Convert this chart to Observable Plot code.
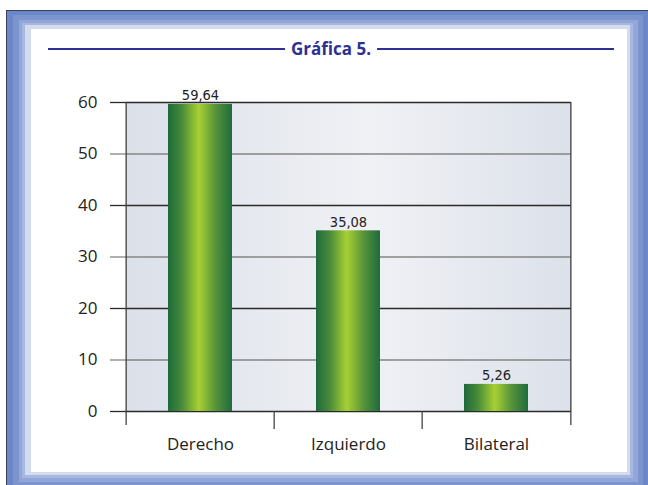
<!DOCTYPE html>
<html><head><meta charset="utf-8">
<script src="https://cdn.jsdelivr.net/npm/d3@7"></script>
<script src="https://cdn.jsdelivr.net/npm/@observablehq/plot@0.6"></script>
<style>
body{margin:0;background:#fff;}
#wrap{position:relative;width:648px;height:485px;overflow:hidden;background:#fff;}
.fb{position:absolute;}
#title{position:absolute;left:48px;top:38px;width:566px;height:22px;display:flex;align-items:center;}
#title .ln{flex:1;height:2px;background:#2e3192;}
#title .tx{font-family:"Open Sans",sans-serif;font-weight:700;font-size:17px;color:#2e3192;margin:0 6px;line-height:22px;}
#chart{position:absolute;left:0;top:0;}
</style></head><body>
<div id="wrap">
  <div class="fb" style="left:6px;top:10px;width:650px;height:480px;background:#3b3f58"></div>
  <div class="fb" style="left:7px;top:11px;width:650px;height:480px;background:#6a87c8"></div>
  <div class="fb" style="left:13px;top:15px;width:630px;height:470px;background:#7d95cf"></div>
  <div class="fb" style="left:19px;top:20px;width:619px;height:462px;background:#92a6d8"></div>
  <div class="fb" style="left:22px;top:23px;width:611px;height:455px;background:#a8b7e0"></div>
  <div class="fb" style="left:25px;top:25px;width:605px;height:450px;background:#d3dbef"></div>
  <div class="fb" style="left:31px;top:29px;width:596px;height:443px;background:#ffffff"></div>
  <div id="title"><div class="ln"></div><div class="tx">Gráfica 5.</div><div class="ln"></div></div>
  <div id="chart"></div>
</div>
<script>
const categories = ["Derecho", "Izquierdo", "Bilateral"];
const values = [59.64, 35.08, 5.26];
const yTicks = [0, 10, 20, 30, 40, 50, 60];

const data = categories.map((c, i) => ({cat: c, val: values[i]}));
const W = 648, H = 485, mL = 125, mR = 77, mT = 102, mB = 74;
const step = (W - mL - mR) / categories.length;
const gridColor = d => (d % 20 === 0 ? "#2a2a2a" : "#858585");
const fmt = d => d.toFixed(2).replace(".", ",");

const svg = Plot.plot({
  width: W, height: H,
  marginLeft: mL, marginRight: mR, marginTop: mT, marginBottom: mB,
  style: {background: "transparent", fontFamily: "'Open Sans', sans-serif", color: "#222"},
  x: {domain: categories, paddingInner: 0.57, paddingOuter: 0.285, axis: null, label: null},
  y: {domain: [0, 60], axis: null, label: null},
  marks: [
    Plot.frame({fill: "url(#plotbg)", stroke: null}),
    Plot.ruleY(yTicks, {stroke: gridColor, strokeWidth: 1.3}),
    Plot.barY(data, {x: "cat", y: "val", fill: "url(#barg)"}),
    Plot.text(data, {x: "cat", y: "val", text: d => fmt(d.val), lineAnchor: "bottom", dy: -4,
      fontFamily: "'DejaVu Sans Condensed', sans-serif", fontSize: 14.5, fill: "#222"}),
    Plot.axisY(yTicks, {tickSize: 15, tickPadding: 13, stroke: gridColor, strokeWidth: 1.3, fontSize: 17, fill: "#222", label: null}),
    Plot.ruleX([categories[0]], {dx: -step / 2, insetBottom: -14, stroke: "#444", strokeWidth: 1.3}),
    Plot.ruleX([categories[categories.length - 1]], {dx: step / 2, insetBottom: -14, stroke: "#444", strokeWidth: 1.3}),
    Plot.ruleX(categories.slice(1), {dx: -step / 2, y1: 0, y2: 0, insetBottom: -18, stroke: "#444", strokeWidth: 1.3}),
    Plot.axisX({tickSize: 0, tickPadding: 26, fontSize: 17, fill: "#222", label: null})
  ]
});

const NS = "http://www.w3.org/2000/svg";
const defs = document.createElementNS(NS, "defs");
defs.innerHTML = `
<linearGradient id="plotbg" x1="0" x2="1" y1="0" y2="0">
  <stop offset="0" stop-color="#dbe0e9"/>
  <stop offset="0.55" stop-color="#f0f1f5"/>
  <stop offset="1" stop-color="#dce1ea"/>
</linearGradient>
<linearGradient id="barg" x1="0" x2="1" y1="0" y2="0">
  <stop offset="0" stop-color="#1e6a3d"/>
  <stop offset="0.22" stop-color="#4a8c3a"/>
  <stop offset="0.48" stop-color="#a8d034"/>
  <stop offset="0.75" stop-color="#54923a"/>
  <stop offset="1" stop-color="#1f6b3e"/>
</linearGradient>`;
svg.insertBefore(defs, svg.firstChild);
document.getElementById("chart").appendChild(svg);
</script>
</body></html>
